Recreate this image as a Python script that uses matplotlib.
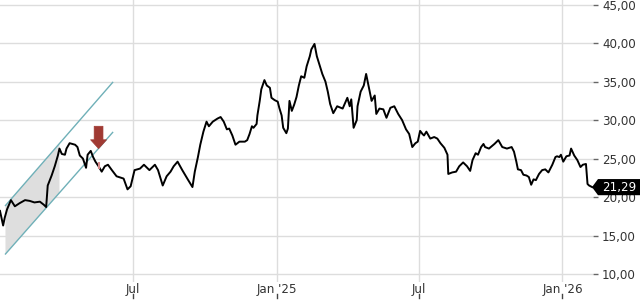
import matplotlib
matplotlib.use("Agg")
import numpy as np
import pandas as pd
import matplotlib.pyplot as plt
import matplotlib.dates as mdates
from matplotlib.patches import Polygon, FancyArrowPatch
from matplotlib import transforms

# Price series (close)
dates = [
    "2024-01-13", "2024-01-17", "2024-01-19", "2024-01-22", "2024-01-27", "2024-02-01", "2024-02-07", "2024-02-14", "2024-02-20", "2024-02-26",
    "2024-03-04", "2024-03-09", "2024-03-12", "2024-03-14", "2024-03-19", "2024-03-23", "2024-03-27", "2024-03-29", "2024-04-01", "2024-04-05",
    "2024-04-07", "2024-04-11", "2024-04-18", "2024-04-21", "2024-04-24", "2024-04-28", "2024-05-02", "2024-05-04", "2024-05-08", "2024-05-11",
    "2024-05-14", "2024-05-18", "2024-05-22", "2024-05-26", "2024-05-30", "2024-06-04", "2024-06-10", "2024-06-19", "2024-06-24", "2024-06-28",
    "2024-07-03", "2024-07-10", "2024-07-15", "2024-07-22", "2024-07-29", "2024-08-02", "2024-08-08", "2024-08-13", "2024-08-18", "2024-08-22",
    "2024-08-27", "2024-09-02", "2024-09-09", "2024-09-15", "2024-09-18", "2024-09-22", "2024-09-25", "2024-09-29", "2024-10-03", "2024-10-06",
    "2024-10-11", "2024-10-17", "2024-10-21", "2024-10-25", "2024-10-29", "2024-11-01", "2024-11-05", "2024-11-09", "2024-11-14", "2024-11-21",
    "2024-11-24", "2024-11-27", "2024-11-30", "2024-12-02", "2024-12-06", "2024-12-07", "2024-12-10", "2024-12-12", "2024-12-16", "2024-12-19",
    "2024-12-23", "2024-12-25", "2024-12-29", "2025-01-02", "2025-01-04", "2025-01-07", "2025-01-09", "2025-01-13", "2025-01-15", "2025-01-17",
    "2025-01-20", "2025-01-23", "2025-01-26", "2025-01-29", "2025-02-01", "2025-02-05", "2025-02-08", "2025-02-12", "2025-02-14", "2025-02-18",
    "2025-02-21", "2025-02-24", "2025-02-28", "2025-03-04", "2025-03-07", "2025-03-10", "2025-03-14", "2025-03-19", "2025-03-26", "2025-04-01",
    "2025-04-04", "2025-04-06", "2025-04-09", "2025-04-13", "2025-04-14", "2025-04-18", "2025-04-22", "2025-04-25", "2025-04-28", "2025-05-02",
    "2025-05-06", "2025-05-08", "2025-05-12", "2025-05-17", "2025-05-21", "2025-05-26", "2025-05-31", "2025-06-05", "2025-06-10", "2025-06-15",
    "2025-06-19", "2025-06-23", "2025-06-27", "2025-06-30", "2025-07-03", "2025-07-06", "2025-07-08", "2025-07-11", "2025-07-16", "2025-07-21",
    "2025-07-25", "2025-07-29", "2025-08-03", "2025-08-07", "2025-08-08", "2025-08-13", "2025-08-18", "2025-08-22", "2025-08-27", "2025-09-01",
    "2025-09-05", "2025-09-08", "2025-09-12", "2025-09-15", "2025-09-19", "2025-09-22", "2025-09-24", "2025-09-29", "2025-10-06", "2025-10-11",
    "2025-10-16", "2025-10-22", "2025-10-28", "2025-10-31", "2025-11-03", "2025-11-05", "2025-11-09", "2025-11-12", "2025-11-16", "2025-11-19",
    "2025-11-22", "2025-11-25", "2025-11-28", "2025-12-02", "2025-12-06", "2025-12-10", "2025-12-14", "2025-12-19", "2025-12-23", "2025-12-25",
    "2025-12-28", "2025-12-30", "2026-01-02", "2026-01-06", "2026-01-10", "2026-01-12", "2026-01-16", "2026-01-20", "2026-01-24", "2026-01-27",
    "2026-01-31", "2026-02-02", "2026-02-04", "2026-02-08",
]
closes = [
    18.2, 16.3, 17.3, 18.4, 19.6, 18.8, 19.2, 19.6, 19.5, 19.3,
    19.4, 19.0, 18.7, 21.5, 22.8, 24.0, 25.4, 26.3, 25.6, 25.5,
    26.3, 27.0, 26.8, 26.5, 25.4, 25.0, 23.8, 25.5, 26.0, 25.2,
    24.6, 24.0, 23.3, 24.0, 24.2, 23.5, 22.7, 22.4, 21.0, 21.4,
    23.5, 23.7, 24.2, 23.5, 24.2, 23.5, 21.5, 22.7, 23.3, 24.0,
    24.6, 23.5, 22.3, 21.3, 23.3, 25.2, 26.8, 28.5, 29.8, 29.2,
    29.8, 30.2, 30.4, 29.8, 28.8, 28.9, 28.0, 26.8, 27.2, 27.2,
    27.4, 28.2, 29.2, 29.0, 29.5, 30.6, 32.5, 34.0, 35.2, 34.5,
    34.2, 32.9, 32.6, 32.4, 31.6, 30.6, 29.0, 28.3, 28.9, 32.5,
    31.2, 32.0, 33.0, 34.5, 35.7, 35.5, 37.0, 38.3, 39.2, 39.9,
    38.3, 37.3, 36.0, 35.0, 33.7, 32.1, 30.9, 31.8, 31.5, 32.9,
    31.8, 32.7, 29.0, 30.0, 31.8, 33.7, 34.5, 36.0, 34.5, 32.5,
    33.2, 30.8, 31.5, 31.4, 30.3, 31.6, 31.8, 30.8, 30.0, 28.8,
    28.2, 26.5, 27.0, 27.2, 28.6, 28.2, 28.0, 28.5, 27.6, 27.8,
    27.6, 27.0, 26.4, 25.5, 23.0, 23.2, 23.3, 24.0, 24.5, 24.0,
    23.4, 24.8, 25.7, 25.5, 26.5, 26.9, 26.5, 26.3, 26.9, 27.4,
    26.5, 26.3, 26.5, 25.9, 24.6, 23.6, 23.5, 22.9, 22.8, 22.6,
    21.6, 22.3, 22.2, 23.0, 23.5, 23.6, 23.2, 24.2, 25.2, 25.3,
    25.2, 25.5, 24.6, 25.3, 25.4, 26.3, 25.4, 24.8, 23.9, 24.2,
    24.3, 21.7, 21.5, 21.29,
]
last_price = 21.29

# Trend channel drawn on the chart
channel_dates = ["2024-01-20", "2024-06-05"]
channel_upper = [18.9, 34.9]
channel_lower = [12.6, 28.4]
shade_end = "2024-03-29"

# Sell signal arrow
signal_date = "2024-05-18"
signal_top = 29.2
signal_tip = 26.3
signal_bar = [23.7, 24.5]

yticks = [10, 15, 20, 25, 30, 35, 40, 45]
xticks = ["2024-07-01", "2025-01-01", "2025-07-01", "2026-01-01"]
xlabels = ["Jul", "Jan '25", "Jul", "Jan '26"]

x = pd.to_datetime(dates)
teal = "#6fb0b8"
grid_col = "#dddddd"
text_col = "#333333"
fsize = 8.6

fig = plt.figure(figsize=(6.4, 3.0), dpi=100)
ax = fig.add_axes([0, 0.06, 593 / 640, 0.94])
ax.set_xlim(pd.Timestamp("2024-01-13"), pd.Timestamp("2026-02-09"))
ax.set_ylim(8.96, 45.61)

# grid
for v in yticks:
    ax.axhline(v, color=grid_col, lw=1, zorder=0)
for d in xticks:
    ax.axvline(pd.Timestamp(d), color=grid_col, lw=1, zorder=0)

# shaded part of the channel
cd = mdates.date2num(pd.to_datetime(channel_dates))
se = mdates.date2num(pd.Timestamp(shade_end))
up_end = np.interp(se, cd, channel_upper)
lo_end = np.interp(se, cd, channel_lower)
shade = Polygon([(cd[0], channel_lower[0]), (cd[0], channel_upper[0]),
                 (se, up_end), (se, lo_end)],
                closed=True, facecolor="#dedede", edgecolor="none", zorder=1)
ax.add_patch(shade)
ax.plot(pd.to_datetime(channel_dates), channel_upper, color=teal, lw=1, zorder=2)
ax.plot(pd.to_datetime(channel_dates), channel_lower, color=teal, lw=1, zorder=2)

# price
ax.plot(x, closes, color="black", lw=1.4, zorder=3)
sd = pd.Timestamp(signal_date)
ax.vlines(sd, signal_bar[0], signal_bar[1], color="#d98c8c", lw=1.5, zorder=4)

arrow = FancyArrowPatch((mdates.date2num(sd), signal_top), (mdates.date2num(sd), signal_tip),
                        arrowstyle="simple,head_length=0.55,head_width=1.0,tail_width=0.55",
                        mutation_scale=11.5, shrinkA=0, shrinkB=0,
                        facecolor="#a03a33", edgecolor="#a03a33", lw=0.5, zorder=5)
ax.add_patch(arrow)

# axes styling
for s in ax.spines.values():
    s.set_visible(False)
ax.yaxis.tick_right()
ax.set_yticks(yticks)
ax.set_yticklabels([f"{v:.2f}".replace(".", ",") for v in yticks])
ax.tick_params(axis="y", length=3.5, width=1, color="#666666", pad=3,
               labelsize=fsize, labelcolor=text_col)
ax.set_xticks(pd.to_datetime(xticks))
ax.set_xticklabels(xlabels)
ax.tick_params(axis="x", length=0, pad=0.5, labelsize=fsize, labelcolor=text_col)
trans_x = transforms.blended_transform_factory(ax.transData, ax.transAxes)
for d in xticks:
    ax.plot([pd.Timestamp(d)] * 2, [-0.043, -0.058], color="#444444", lw=1,
            transform=trans_x, clip_on=False)

# last price tag
trans_tag = transforms.blended_transform_factory(fig.transFigure, ax.transData)
tip = 592 / 640
body = 598 / 640
h = 1.05
tag = Polygon([(tip, last_price), (body, last_price + h), (1.0, last_price + h),
               (1.0, last_price - h), (body, last_price - h)],
              closed=True, facecolor="black", edgecolor="none",
              transform=trans_tag, clip_on=False, zorder=6)
ax.add_patch(tag)
ax.text(602 / 640, last_price, f"{last_price:.2f}".replace(".", ","),
        transform=trans_tag, color="white", fontsize=fsize, va="center", ha="left",
        zorder=7, clip_on=False)

fig.savefig("out.png", dpi=100)
